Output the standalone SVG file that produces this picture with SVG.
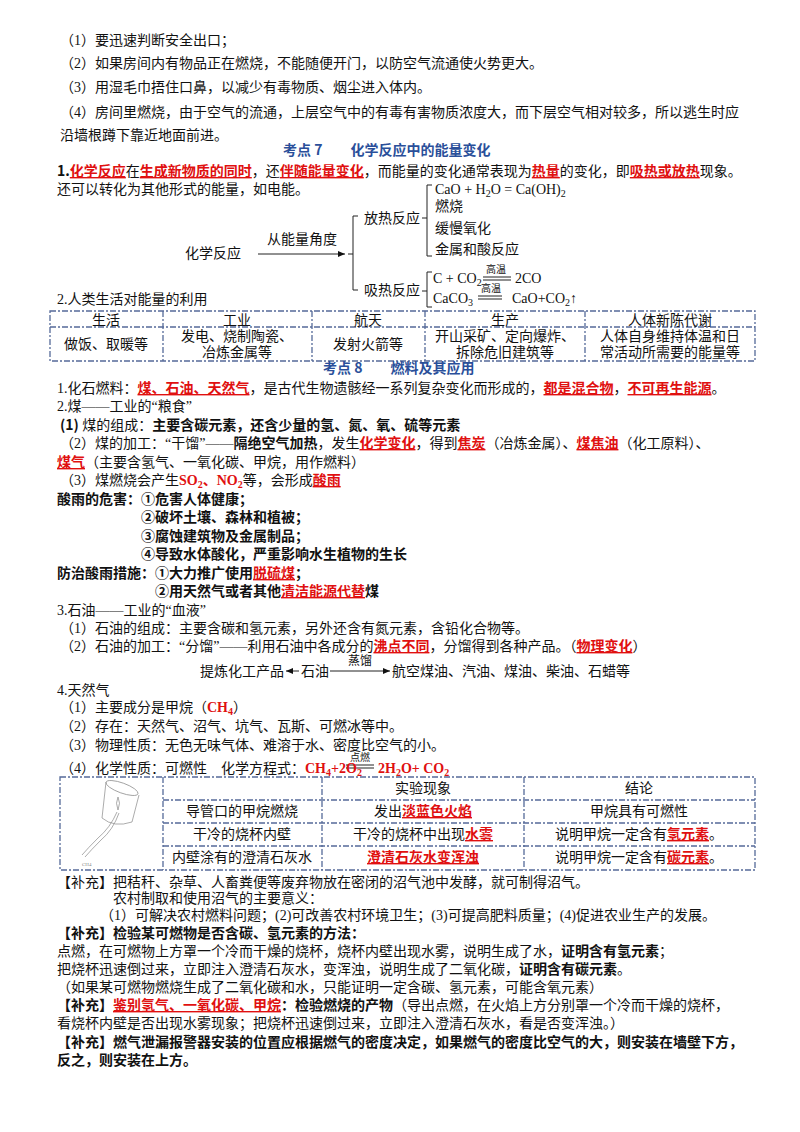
<svg xmlns="http://www.w3.org/2000/svg" width="800" height="1132" viewBox="0 0 800 1132">
<style>
text{font-family:"Liberation Serif","Noto Sans CJK SC",serif;font-size:14px;fill:#111}
.b{font-family:"Noto Sans CJK SC",sans-serif;font-weight:bold}
.r{font-family:"Noto Sans CJK SC",sans-serif;font-weight:bold;fill:#e01010;text-decoration:underline}
.rn{font-weight:bold;fill:#e01010}
.h{font-family:"Noto Sans CJK SC",sans-serif;font-weight:bold;fill:#2a4f9a;font-size:14px}
.c{text-anchor:middle}
.s{font-size:10px}
.xs{font-size:5px;fill:#888}
.tb{fill:none;stroke:#556a99;stroke-width:1.3;stroke-dasharray:6 2 2 2}
.ln{stroke:#222;stroke-width:1;fill:none}
</style>
<defs><marker id="ar" markerWidth="8" markerHeight="8" refX="7" refY="4" orient="auto"><path d="M0,1 L7,4 L0,7 z" fill="#111"/></marker></defs>
<rect width="800" height="1132" fill="#fff"/>
<g id="intro">
<text x="60" y="45">（1）要迅速判断安全出口；</text>
<text x="60" y="68">（2）如果房间内有物品正在燃烧，不能随便开门，以防空气流通使火势更大。</text>
<text x="60" y="92">（3）用湿毛巾捂住口鼻，以减少有毒物质、烟尘进入体内。</text>
<text x="60" y="117">（4）房间里燃烧，由于空气的流通，上层空气中的有毒有害物质浓度大，而下层空气相对较多，所以逃生时应</text>
<text x="60" y="140">沿墙根蹲下靠近地面前进。</text>
</g>
<g id="k7">
<text x="283" y="155" class="h">考点 7　　化学反应中的能量变化</text>
<text x="57" y="176"><tspan class="b">1.</tspan><tspan class="r">化学反应</tspan>在<tspan class="r">生成新物质的同时</tspan>，还<tspan class="r">伴随能量变化</tspan>，而能量的变化通常表现为<tspan class="r">热量</tspan>的变化，即<tspan class="r">吸热或放热</tspan>现象。</text>
<text x="57" y="194">还可以转化为其他形式的能量，如电能。</text>
</g>
<g id="energy-tree">
<text x="185" y="258">化学反应</text>
<text x="267" y="244">从能量角度</text>
<text x="364" y="223">放热反应</text>
<text x="364" y="295">吸热反应</text>
<text x="435" y="194">CaO + H<tspan class="s" dy="3">2</tspan><tspan dy="-3">O = Ca(OH)</tspan><tspan class="s" dy="3">2</tspan></text>
<text x="435" y="211">燃烧</text>
<text x="435" y="233">缓慢氧化</text>
<text x="435" y="254">金属和酸反应</text>
<text x="433" y="283">C + CO<tspan class="s" dy="3">2</tspan></text>
<text x="486" y="273" class="s">高温</text>
<text x="515" y="283">2CO</text>
<text x="433" y="303">CaCO<tspan class="s" dy="3">3</tspan></text>
<text x="481" y="292" class="s">高温</text>
<text x="512" y="303">CaO+CO<tspan class="s" dy="3">2</tspan><tspan dy="-3">↑</tspan></text>
</g>
<g id="connectors">
<line x1="258" y1="254" x2="345" y2="254" class="ln" marker-end="url(#ar)"/>
<path d="M348,254 H353 M358,216 H353 V290 H358" class="ln"/>
<path d="M422,218 H427 M432,185 H427 V256 H432" class="ln"/>
<path d="M422,291 H427 M432,272 H427 V307 H432" class="ln"/>
<path d="M483,277 H511 M483,280 H511 M478,296 H502 M478,299 H502" class="ln"/>
<line x1="299" y1="671" x2="286" y2="671" class="ln" marker-end="url(#ar)"/>
<line x1="330" y1="671" x2="390" y2="671" class="ln" marker-end="url(#ar)"/>
<path d="M346,765 H374 M346,768 H374" class="ln"/>
</g>
<g id="k7-table">
<text x="57" y="304">2.人类生活对能量的利用</text>
<rect x="50" y="311" width="705" height="50" class="tb"/>
<path d="M50,327 H755 M163,311 V361 M312,311 V361 M425,311 V361 M585,311 V361" class="tb"/>
<text x="106" y="325" class="c">生活</text><text x="237" y="325" class="c">工业</text><text x="368" y="325" class="c">航天</text><text x="505" y="325" class="c">生产</text><text x="670" y="325" class="c">人体新陈代谢</text>
<text x="106" y="349" class="c">做饭、取暖等</text>
<text x="237" y="341" class="c">发电、烧制陶瓷、</text><text x="237" y="357" class="c">冶炼金属等</text>
<text x="368" y="349" class="c">发射火箭等</text>
<text x="505" y="341" class="c">开山采矿、定向爆炸、</text><text x="505" y="357" class="c">拆除危旧建筑等</text>
<text x="670" y="341" class="c">人体自身维持体温和日</text><text x="670" y="357" class="c">常活动所需要的能量等</text>
</g>
<g id="k8">
<text x="323" y="373" class="h">考点 8　　燃料及其应用</text>
<text x="57" y="393">1.化石燃料：<tspan class="r">煤、石油、天然气</tspan>，是古代生物遗骸经一系列复杂变化而形成的，<tspan class="r">都是混合物</tspan>，<tspan class="r">不可再生能源</tspan>。</text>
<text x="57" y="411">2.煤——工业的“粮食”</text>
<text x="60" y="430"><tspan class="b">(1)</tspan> 煤的组成：<tspan class="b">主要含碳元素，还含少量的氢、氮、氧、硫等元素</tspan></text>
<text x="60" y="448">（2）煤的加工：“干馏”——<tspan class="b">隔绝空气加热</tspan>，发生<tspan class="r">化学变化</tspan>，得到<tspan class="r">焦炭</tspan>（冶炼金属）、<tspan class="r">煤焦油</tspan>（化工原料）、</text>
<text x="57" y="467"><tspan class="r">煤气</tspan>（主要含氢气、一氧化碳、甲烷，用作燃料）</text>
<text x="60" y="485">（3）煤燃烧会产生<tspan class="rn">SO<tspan class="s" dy="3">2</tspan><tspan dy="-3">、NO</tspan><tspan class="s" dy="3">2</tspan></tspan><tspan dy="-3">等，会形成</tspan><tspan class="r">酸雨</tspan></text>
<text x="57" y="504" class="b">酸雨的危害：①危害人体健康；</text>
<text x="141" y="522" class="b">②破坏土壤、森林和植被；</text>
<text x="141" y="541" class="b">③腐蚀建筑物及金属制品；</text>
<text x="141" y="559" class="b">④导致水体酸化，严重影响水生植物的生长</text>
<text x="57" y="578" class="b">防治酸雨措施：①大力推广使用<tspan class="r">脱硫煤</tspan>；</text>
<text x="155" y="596" class="b">②用天然气或者其他<tspan class="r">清洁能源代替</tspan>煤</text>
<text x="57" y="615">3.石油——工业的“血液”</text>
<text x="60" y="633">（1）石油的组成：主要含碳和氢元素，另外还含有氮元素，含铅化合物等。</text>
<text x="60" y="651">（2）石油的加工：“分馏”——利用石油中各成分的<tspan class="r">沸点不同</tspan>，分馏得到各种产品。（<tspan class="r">物理变化</tspan>）</text>
<text x="200" y="676">提炼化工产品</text>
<text x="301" y="676">石油</text>
<text x="348" y="665" style="font-size:12px">蒸馏</text>
<text x="392" y="676">航空煤油、汽油、煤油、柴油、石蜡等</text>
<text x="57" y="695">4.天然气</text>
<text x="60" y="712">（1）主要成分是甲烷（<tspan class="rn">CH<tspan class="s" dy="3">4</tspan></tspan><tspan dy="-3">）</tspan></text>
<text x="60" y="731">（2）存在：天然气、沼气、坑气、瓦斯、可燃冰等中。</text>
<text x="60" y="750">（3）物理性质：无色无味气体、难溶于水、密度比空气的小。</text>
<text x="60" y="773">（4）化学性质：可燃性　化学方程式：<tspan class="rn">CH<tspan class="s" dy="3">4</tspan><tspan dy="-3">+2O</tspan><tspan class="s" dy="3">2</tspan></tspan></text>
<text x="350" y="761" class="s">点燃</text>
<text x="378" y="773" class="rn">2H<tspan class="s" dy="3">2</tspan><tspan dy="-3">O+ CO</tspan><tspan class="s" dy="3">2</tspan></text>
</g>
<g id="k8-table">
<rect x="60" y="777" width="695" height="93" class="tb"/>
<path d="M163,800 H755 M163,823 H755 M163,846 H755 M163,777 V870 M322,777 V870 M524,777 V870" class="tb"/>
<text x="423" y="793" class="c">实验现象</text><text x="639" y="793" class="c">结论</text>
<text x="242" y="816" class="c">导管口的甲烷燃烧</text>
<text x="423" y="816" class="c">发出<tspan class="r">淡蓝色火焰</tspan></text>
<text x="639" y="816" class="c">甲烷具有可燃性</text>
<text x="242" y="839" class="c">干冷的烧杯内壁</text>
<text x="423" y="839" class="c">干冷的烧杯中出现<tspan class="r">水雾</tspan></text>
<text x="639" y="839" class="c">说明甲烷一定含有<tspan class="r">氢元素</tspan>。</text>
<text x="242" y="862" class="c">内壁涂有的澄清石灰水</text>
<text x="423" y="862" class="c"><tspan class="r">澄清石灰水变浑浊</tspan></text>
<text x="639" y="862" class="c">说明甲烷一定含有<tspan class="r">碳元素</tspan>。</text>
<g fill="none" stroke="#888" stroke-width="0.7">
<ellipse cx="122" cy="788" rx="17" ry="5" transform="rotate(20 122 788)"/>
<path d="M106,782 L102,818 Q114,828 132,822 L139,795"/>
<path d="M117,812 Q110,828 98,838 Q88,848 82,855 M119,813 Q113,830 101,840 Q91,850 85,857"/>
<path d="M118,810 Q115,803 118,797 Q121,803 118,810"/>
</g>
<text x="82" y="866" class="xs">CH4</text>
</g>
<g id="supplement">
<text x="57" y="887">【补充】把秸秆、杂草、人畜粪便等废弃物放在密闭的沼气池中发酵，就可制得沼气。</text>
<text x="113" y="903">农村制取和使用沼气的主要意义：</text>
<text x="100" y="920">（1）可解决农村燃料问题；(2)可改善农村环境卫生；(3)可提高肥料质量；(4)促进农业生产的发展。</text>
<text x="57" y="938" class="b">【补充】检验某可燃物是否含碳、氢元素的方法：</text>
<text x="57" y="956">点燃，在可燃物上方罩一个冷而干燥的烧杯，烧杯内壁出现水雾，说明生成了水，<tspan class="b">证明含有氢元素</tspan>；</text>
<text x="57" y="974">把烧杯迅速倒过来，立即注入澄清石灰水，变浑浊，说明生成了二氧化碳，<tspan class="b">证明含有碳元素</tspan>。</text>
<text x="57" y="992">（如果某可燃物燃烧生成了二氧化碳和水，只能证明一定含碳、氢元素，可能含氧元素）</text>
<text x="57" y="1010"><tspan class="b">【补充】</tspan><tspan class="r">鉴别氢气、一氧化碳、甲烷</tspan><tspan class="b">：检验燃烧的产物</tspan>（导出点燃，在火焰上方分别罩一个冷而干燥的烧杯，</text>
<text x="57" y="1028">看烧杯内壁是否出现水雾现象；把烧杯迅速倒过来，立即注入澄清石灰水，看是否变浑浊。）</text>
<text x="57" y="1047" class="b">【补充】燃气泄漏报警器安装的位置应根据燃气的密度决定，如果燃气的密度比空气的大，则安装在墙壁下方，</text>
<text x="57" y="1065" class="b">反之，则安装在上方。</text>
</g>
</svg>
